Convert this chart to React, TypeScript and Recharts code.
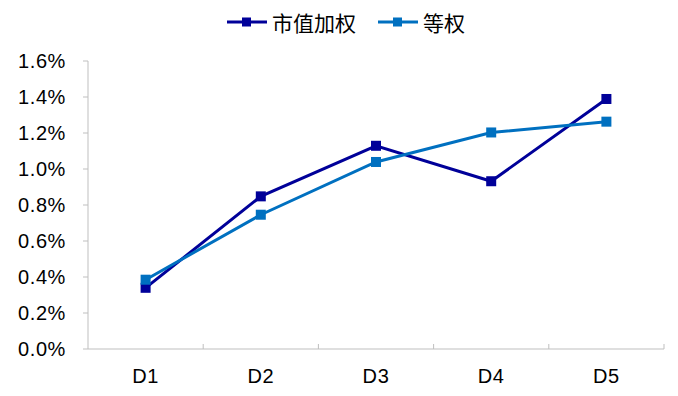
import React from 'react';
import { LineChart, Line, XAxis, YAxis } from 'recharts';

const categories = ['D1', 'D2', 'D3', 'D4', 'D5'];
const capWeighted = [0.34, 0.848, 1.129, 0.932, 1.389];
const equalWeighted = [0.385, 0.746, 1.039, 1.203, 1.263];
const yTicks = [0, 0.2, 0.4, 0.6, 0.8, 1.0, 1.2, 1.4, 1.6];
const seriesNames = ['市值加权', '等权'];
const colors = ['#000099', '#0070C0'];
const axisColor = '#BFBFBF';
const fontFamily = '"Liberation Sans", Arial, sans-serif';

const data = categories.map((c, i) => ({ cat: c, a: capWeighted[i], b: equalWeighted[i] }));

const SquareDot = (color: string) => (props: any) => {
  const { cx, cy, index } = props;
  if (cx == null || cy == null) return <g key={index} />;
  return <rect key={index} x={cx - 5} y={cy - 5} width={10} height={10} fill={color} />;
};

const CategoryTick = (props: any) => {
  const { x, y, payload, index, visibleTicksCount } = props;
  const half = payload && typeof payload.offset === 'number' ? payload.offset : 0;
  const isLast = index === (visibleTicksCount ?? categories.length) - 1;
  return (
    <g>
      {half > 0 && index > 0 && (
        <line x1={x - half} x2={x - half} y1={y - 5} y2={y} stroke={axisColor} />
      )}
      {half > 0 && isLast && (
        <line x1={x + half} x2={x + half} y1={y - 5} y2={y} stroke={axisColor} />
      )}
      <text x={x} y={y + 20} dy="0.71em" textAnchor="middle" fill="#000" fontSize={20} fontFamily={fontFamily} letterSpacing={0.6}>
        {payload.value}
      </text>
    </g>
  );
};

const LegendItem = ({ color, label, gap }: { color: string; label: string; gap: number }) => (
  <div style={{ display: 'flex', alignItems: 'center', marginRight: gap }}>
    <svg width={40} height={12} style={{ marginRight: 5 }}>
      <line x1={0} y1={6} x2={40} y2={6} stroke={color} strokeWidth={3} />
      <rect x={15} y={1.5} width={9} height={9} fill={color} />
    </svg>
    <span style={{ fontFamily: '"Noto Sans CJK SC", sans-serif', fontSize: 21, color: '#000', lineHeight: '26px' }}>
      {label}
    </span>
  </div>
);

export default function App() {
  return (
    <div style={{ position: 'absolute', left: 0, top: 0, width: 678, height: 396, background: '#fff' }}>
      <div style={{ position: 'absolute', left: 227, top: 9, display: 'flex' }}>
        <LegendItem color={colors[0]} label={seriesNames[0]} gap={22} />
        <LegendItem color={colors[1]} label={seriesNames[1]} gap={0} />
      </div>
      <LineChart width={678} height={396} data={data} margin={{ top: 61, right: 14, left: 0, bottom: 0 }}>
        <XAxis
          dataKey="cat"
          scale="band"
          height={47}
          interval={0}
          axisLine={{ stroke: axisColor }}
          tickLine={false}
          tickSize={0}
          tickMargin={0}
          tick={CategoryTick}
        />
        <YAxis
          domain={[0, 1.6]}
          ticks={yTicks}
          width={88}
          interval={0}
          axisLine={{ stroke: axisColor }}
          tickLine={{ stroke: axisColor }}
          tickSize={5}
          tickMargin={17}
          tickFormatter={(v: number) => `${v.toFixed(1)}%`}
          tick={{ fill: '#000', fontSize: 20, fontFamily, letterSpacing: 0.6 }}
        />
        <Line
          dataKey="a"
          name={seriesNames[0]}
          stroke={colors[0]}
          strokeWidth={3}
          dot={SquareDot(colors[0])}
          activeDot={false}
          isAnimationActive={false}
        />
        <Line
          dataKey="b"
          name={seriesNames[1]}
          stroke={colors[1]}
          strokeWidth={3}
          dot={SquareDot(colors[1])}
          activeDot={false}
          isAnimationActive={false}
        />
      </LineChart>
    </div>
  );
}
